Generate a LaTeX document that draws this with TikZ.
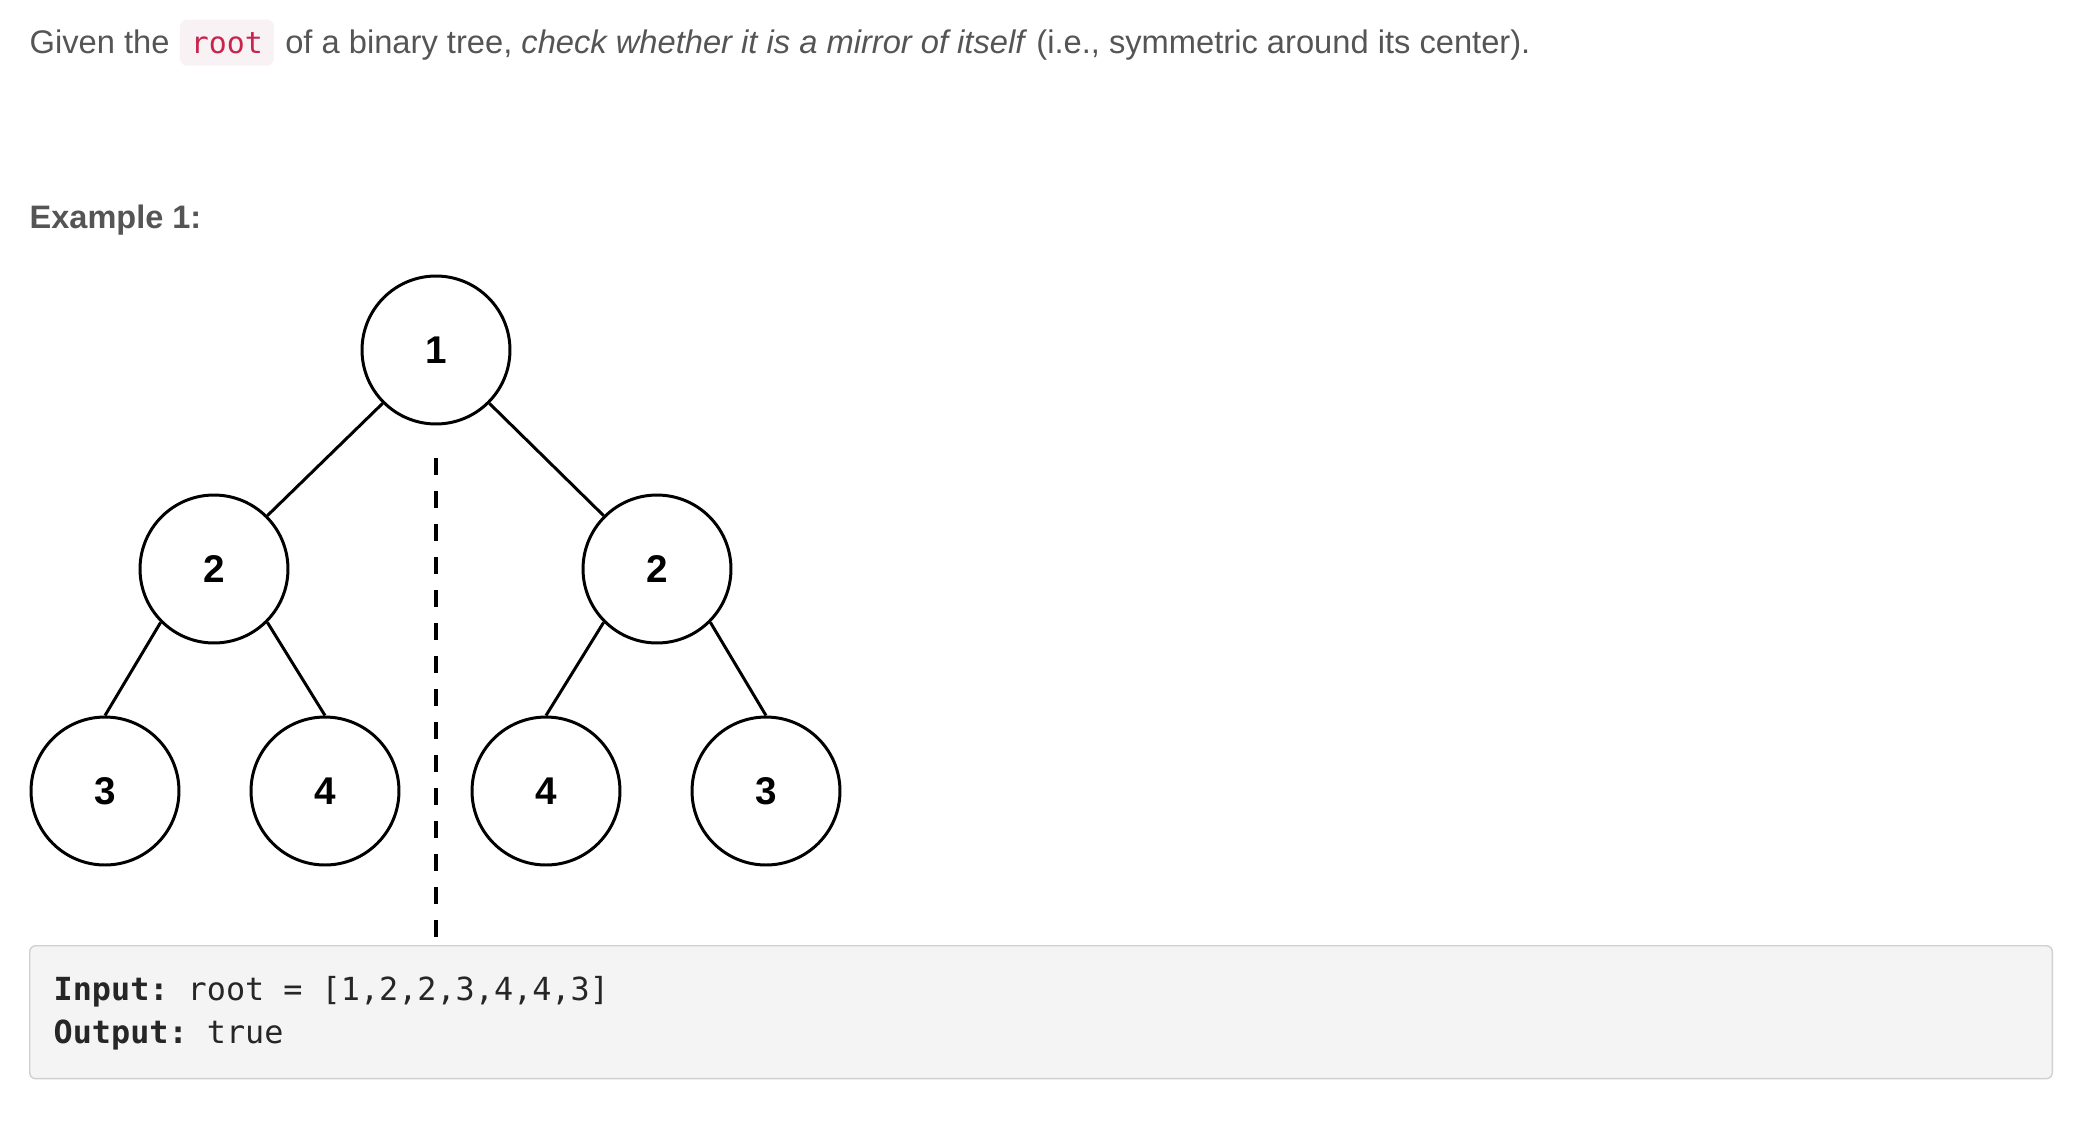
\documentclass[tikz,border=0pt]{standalone}
\usepackage{fontspec}
\setmainfont{Liberation Sans}
\setmonofont{DejaVu Sans Mono}
\usepackage{tikz}
\usepackage{xcolor}
\usetikzlibrary{positioning}
\definecolor{bodygray}{HTML}{555555}
\definecolor{codered}{HTML}{C7254E}
\definecolor{codepink}{HTML}{F9F2F4}
\definecolor{boxfill}{HTML}{F4F4F4}
\definecolor{boxline}{HTML}{D0D0D0}
\definecolor{codeink}{HTML}{262626}

\begin{document}
\begin{tikzpicture}[x=0.02cm,y=-0.02cm,thick,every node/.style={inner sep=0pt},
  bodytext/.style={text=bodygray,font=\fontsize{18.6pt}{22pt}\selectfont},
  inlinecode/.style={fill=codepink,text=codered,rounded corners=0.14cm,inner xsep=0.22cm,minimum height=0.92cm,font=\ttfamily\fontsize{17pt}{20pt}\selectfont},
  treenode/.style={circle,draw=black,line width=1.7pt,fill=white,minimum size=2.96cm,font=\bfseries\fontsize{22pt}{26pt}\selectfont},
  edge/.style={-,black,line width=1.7pt},
  mirrorline/.style={-,black,line width=2.3pt,dash pattern=on 0.34cm off 0.32cm},
  codebox/.style={draw=boxline,fill=boxfill,line width=0.8pt,rounded corners=0.12cm},
  codetext/.style={text=codeink,font=\ttfamily\fontsize{18.1pt}{22pt}\selectfont}]
\useasboundingbox (0,0) rectangle (2084,1126);
\node[bodytext,anchor=base west] (given) at (29,53) {Given the};
\node[inlinecode,anchor=base west] (rootcode) at ([xshift=0.18cm]given.base east) {root};
\node[bodytext,anchor=base west] (rest) at ([xshift=0.2cm]rootcode.base east) {of a binary tree, \textit{check whether it is a mirror of itself} (i.e., symmetric around its center).};
\node[bodytext,anchor=base west,font=\bfseries\fontsize{18.5pt}{22pt}\selectfont] (example) at (29,228) {Example 1:};
\node (n1) at (436,350) [treenode]{1};
\node (n2l) at (214,569) [treenode]{2};
\node (n2r) at (657,569) [treenode]{2};
\node (n3l) at (105,791) [treenode]{3};
\node (n4l) at (325,791) [treenode]{4};
\node (n4r) at (546,791) [treenode]{4};
\node (n3r) at (766,791) [treenode]{3};
\draw[edge] (n1.south west) -- (n2l.north east);
\draw[edge] (n1.south east) -- (n2r.north west);
\draw[edge] (n2l.south west) -- (n3l.north);
\draw[edge] (n2l.south east) -- (n4l.north);
\draw[edge] (n2r.south west) -- (n4r.north);
\draw[edge] (n2r.south east) -- (n3r.north);
\coordinate (mirtop) at (436,458);
\coordinate (mirbot) at (436,937);
\draw[mirrorline] (mirtop) -- (mirbot);
\node[codebox,anchor=north west,minimum width=40.46cm,minimum height=2.66cm] (box) at (29,945) {};
\node[codetext,anchor=base west] (input) at (53,1000) {\textbf{Input:} root = [1,2,2,3,4,4,3]};
\node[codetext,anchor=base west] (output) at (53,1043) {\textbf{Output:} true};
\end{tikzpicture}
\end{document}
